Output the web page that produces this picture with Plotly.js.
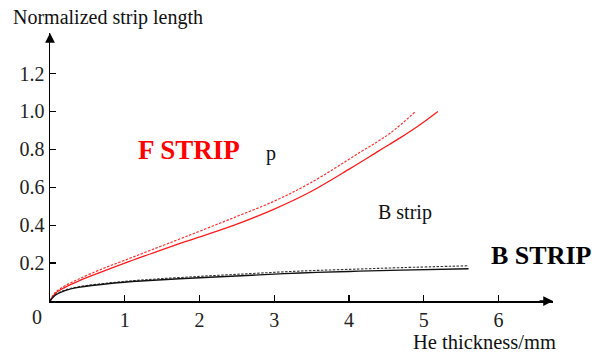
<!DOCTYPE html>
<html><head><meta charset="utf-8">
<script src="https://cdn.plot.ly/plotly-3.0.1.min.js"></script>
<style>html,body{margin:0;padding:0;background:#fff}#chart{width:592px;height:358px}</style>
</head><body><div id="chart"></div>
<script>
// F strip (red) dashed curve
const fDashX = [0, 0.07, 0.2, 0.38, 0.7, 1, 1.34, 1.8, 2.41, 3, 3.48, 4.15, 4.55, 4.89];
const fDashY = [0, 0.045, 0.08, 0.115, 0.17, 0.215, 0.267, 0.337, 0.432, 0.527, 0.622, 0.785, 0.885, 1.0];
// F strip (red) solid curve
const fSolX = [0, 0.07, 0.2, 0.38, 0.7, 1, 1.34, 1.8, 2.41, 3, 3.48, 4.02, 4.4, 4.69, 4.95, 5.19];
const fSolY = [0, 0.04, 0.072, 0.105, 0.155, 0.2, 0.248, 0.312, 0.392, 0.485, 0.575, 0.70, 0.792, 0.862, 0.93, 1.0];
// B strip (black) dashed curve
const bDashX = [0, 0.07, 0.2, 0.38, 0.83, 1.27, 2, 2.7, 3.35, 4, 4.7, 5.6];
const bDashY = [0, 0.032, 0.058, 0.075, 0.097, 0.112, 0.13, 0.145, 0.158, 0.167, 0.176, 0.186];
// B strip (black) solid curve
const bSolX = [0, 0.07, 0.2, 0.38, 0.83, 1.27, 2, 2.7, 3.35, 4, 4.7, 5.6];
const bSolY = [0, 0.03, 0.055, 0.072, 0.094, 0.107, 0.123, 0.136, 0.148, 0.156, 0.163, 0.17];
// ticks
const xTicks = [1, 2, 3, 4, 5, 6];
const yTicks = [0.2, 0.4, 0.6, 0.8, 1.0, 1.2];
const yTickText = ['0.2', '0.4', '0.6', '0.8', '1.0', '1.2'];

const XMAX = 6.73, YMAX = 1.414;
const serif = 'Liberation Serif';

const traces = [
  {x: fDashX, y: fDashY, mode: 'lines', line: {color: '#ff3030', width: 1.2, dash: '2.5px,1.5px', shape: 'spline', smoothing: 1}, hoverinfo: 'skip'},
  {x: fSolX, y: fSolY, mode: 'lines', line: {color: '#ff1a1a', width: 1.3, shape: 'spline', smoothing: 1}, hoverinfo: 'skip'},
  {x: bDashX, y: bDashY, mode: 'lines', line: {color: '#333', width: 1.1, dash: '2.5px,1.5px', shape: 'spline', smoothing: 1}, hoverinfo: 'skip'},
  {x: bSolX, y: bSolY, mode: 'lines', line: {color: '#111', width: 1.4, shape: 'spline', smoothing: 1}, hoverinfo: 'skip'}
];

// pixel -> paper helpers (plot area: x 50..553, y 33..301)
const px = p => (p - 50) / 503;
const py = p => (301 - p) / 268;
const ann = (text, x, y, size, color, bold, xanchor) => ({
  text: bold ? '<b>' + text + '</b>' : text, x: px(x), y: py(y), xref: 'paper', yref: 'paper',
  showarrow: false, xanchor: xanchor || 'left', yanchor: 'middle',
  font: {family: serif, size: size, color: color || '#000'}
});

const layout = {
  width: 592, height: 358,
  margin: {l: 50, r: 39, t: 33, b: 57},
  paper_bgcolor: '#fff', plot_bgcolor: '#fff',
  showlegend: false,
  font: {family: serif},
  xaxis: {range: [0, XMAX], showgrid: false, zeroline: false, showline: true, linecolor: '#000', linewidth: 1.5,
    ticks: 'inside', ticklen: 6, tickwidth: 1.3, tickcolor: '#000', tickvals: xTicks,
    tickfont: {family: serif, size: 20, color: '#222'}},
  yaxis: {range: [0, YMAX], showgrid: false, zeroline: false, showline: true, linecolor: '#000', linewidth: 1.5,
    ticks: 'inside', ticklen: 6, tickwidth: 1.3, tickcolor: '#000', tickvals: yTicks, ticktext: yTickText,
    tickfont: {family: serif, size: 20, color: '#222'}},
  annotations: [
    ann('Normalized strip length', 11, 17, 20, '#111'),
    ann('F STRIP', 136, 150, 27, '#ff0000', true),
    ann('p', 264, 153, 20, '#111'),
    ann('B strip', 376, 212, 20, '#111'),
    ann('B STRIP', 489, 255, 26, '#000', true),
    ann('He thickness/mm', 411, 342, 20.5, '#111'),
    ann('0', 37, 317, 20, '#222', false, 'center'),
    {x: XMAX, y: 0, ax: XMAX - 0.2, ay: 0, axref: 'x', ayref: 'y', xref: 'x', yref: 'y', text: '',
      showarrow: true, arrowhead: 2, arrowsize: 1.3, arrowwidth: 1.5, arrowcolor: '#000'},
    {x: 0, y: YMAX, ax: 0, ay: YMAX - 0.05, axref: 'x', ayref: 'y', xref: 'x', yref: 'y', text: '',
      showarrow: true, arrowhead: 2, arrowsize: 1.3, arrowwidth: 1.5, arrowcolor: '#000'}
  ]
};

Plotly.newPlot('chart', traces, layout, {displayModeBar: false, staticPlot: true});
</script></body></html>
